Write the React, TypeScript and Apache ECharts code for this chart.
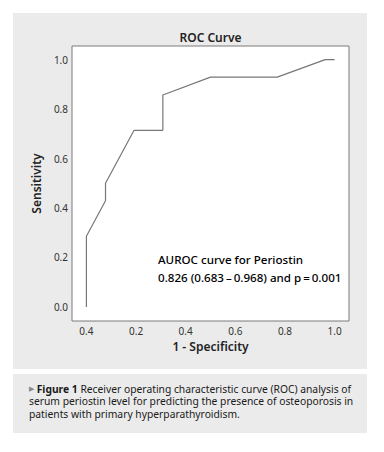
import React, { useEffect, useRef } from "react";
import * as echarts from "echarts";

const fpr = [0, 0, 0.077, 0.077, 0.192, 0.308, 0.308, 0.5, 0.769, 0.962, 1.0];
const tpr = [0, 0.286, 0.429, 0.5, 0.714, 0.714, 0.857, 0.929, 0.929, 1.0, 1.0];
const xTickValues = [0, 0.2, 0.4, 0.6, 0.8, 1.0];
const xTickLabels = ["0.4", "0.2", "0.4", "0.6", "0.8", "1.0"];
const yTickValues = [0, 0.2, 0.4, 0.6, 0.8, 1.0];
const yTickLabels = ["0.0", "0.2", "0.4", "0.6", "0.8", "1.0"];
const chartTitle = "ROC Curve";
const xName = "1 - Specificity";
const yName = "Sensitivity";
const noteLines = ["AUROC curve for Periostin", "0.826 (0.683\u2009\u2013\u20090.968) and p\u2009=\u20090.001"];
const captionLines = [
  "Receiver operating characteristic curve (ROC) analysis of",
  "serum periostin level for predicting the presence of osteoporosis in",
  "patients with primary hyperparathyroidism.",
];

const FONT = "'Noto Sans', sans-serif";

export default function App() {
  const ref = useRef<HTMLDivElement>(null);
  useEffect(() => {
    document.body.style.margin = "0";
    const chart = echarts.init(ref.current!, null, { renderer: "svg" });
    const data = fpr.map((x, i) => [x, tpr[i]]);
    chart.setOption({
      animation: false,
      textStyle: { fontFamily: FONT },
      grid: {
        left: 72,
        top: 46,
        right: 35,
        bottom: 131,
        show: true,
        backgroundColor: "#ffffff",
        borderColor: "#7a7a7a",
        borderWidth: 1,
        z: 1,
      },
      xAxis: {
        type: "value",
        min: -0.058,
        max: 1.058,
        name: xName,
        nameLocation: "middle",
        nameGap: 17,
        nameTextStyle: { fontSize: 12, fontWeight: 600, color: "#222", fontFamily: FONT },
        axisLine: { show: false },
        splitLine: { show: false },
        axisTick: {
          show: true,
          length: 5,
          inside: false,
          customValues: xTickValues,
          lineStyle: { color: "#666" },
        },
        axisLabel: {
          customValues: xTickValues,
          margin: 5,
          fontSize: 10,
          color: "#333",
          fontFamily: FONT,
          formatter: (v: number) => {
            const idx = xTickValues.findIndex((t) => Math.abs(t - v) < 1e-6);
            return idx >= 0 ? xTickLabels[idx] : "";
          },
        },
      },
      yAxis: {
        type: "value",
        min: -0.057,
        max: 1.055,
        name: yName,
        nameLocation: "middle",
        nameGap: 28,
        nameTextStyle: { fontSize: 12, fontWeight: 600, color: "#222", fontFamily: FONT },
        axisLine: { show: false },
        splitLine: { show: false },
        axisTick: {
          show: true,
          length: 6,
          inside: false,
          customValues: yTickValues,
          lineStyle: { color: "#666" },
        },
        axisLabel: {
          customValues: yTickValues,
          margin: 4,
          fontSize: 10,
          color: "#333",
          fontFamily: FONT,
          formatter: (v: number) => {
            const idx = yTickValues.findIndex((t) => Math.abs(t - v) < 1e-6);
            return idx >= 0 ? yTickLabels[idx] : "";
          },
        },
      },
      series: [
        {
          type: "line",
          data,
          symbol: "none",
          z: 5,
          lineStyle: { color: "#777777", width: 1.2 },
        },
      ],
      graphic: [
        {
          type: "rect",
          z: -10,
          shape: { x: 13, y: 13, width: 354, height: 356 },
          style: { fill: "#ebebeb" },
        },
        {
          type: "rect",
          z: -10,
          shape: { x: 13, y: 374, width: 354, height: 59 },
          style: { fill: "#ebebeb" },
        },
        {
          type: "text",
          z: 10,
          x: 210.5,
          y: 37,
          style: {
            text: chartTitle,
            fontFamily: FONT,
            fontSize: 12,
            fontWeight: 600,
            fill: "#222",
            align: "center",
            verticalAlign: "middle",
          },
        },
        {
          type: "text",
          z: 10,
          x: 158,
          y: 259,
          style: {
            text: noteLines[0],
            fontFamily: FONT,
            fontSize: 11.6,
            fontWeight: 500,
            fill: "#000",
            align: "left",
            verticalAlign: "middle",
          },
        },
        {
          type: "text",
          z: 10,
          x: 158,
          y: 277.5,
          style: {
            text: noteLines[1],
            fontFamily: FONT,
            fontSize: 11.6,
            fontWeight: 500,
            fill: "#000",
            align: "left",
            verticalAlign: "middle",
          },
        },
        {
          type: "text",
          z: 10,
          x: 29,
          y: 388.5,
          style: {
            text: "{tri|\u25B6} {b|Figure 1} " + captionLines[0],
            fontFamily: FONT,
            fontSize: 10.3,
            fill: "#1a1a1a",
            align: "left",
            verticalAlign: "middle",
            rich: {
              tri: { fontSize: 7, fill: "#888", fontFamily: FONT },
              b: { fontWeight: "bold", fontSize: 10.3, fill: "#1a1a1a", fontFamily: FONT },
            },
          },
        },
        {
          type: "text",
          z: 10,
          x: 29,
          y: 401,
          style: {
            text: captionLines[1],
            fontFamily: FONT,
            fontSize: 10.3,
            fill: "#1a1a1a",
            align: "left",
            verticalAlign: "middle",
          },
        },
        {
          type: "text",
          z: 10,
          x: 29,
          y: 413.5,
          style: {
            text: captionLines[2],
            fontFamily: FONT,
            fontSize: 10.3,
            fill: "#1a1a1a",
            align: "left",
            verticalAlign: "middle",
          },
        },
      ],
    });
    return () => chart.dispose();
  }, []);
  return (
    <div
      ref={ref}
      style={{ position: "absolute", left: 0, top: 0, width: 384, height: 452, background: "#ffffff" }}
    />
  );
}
